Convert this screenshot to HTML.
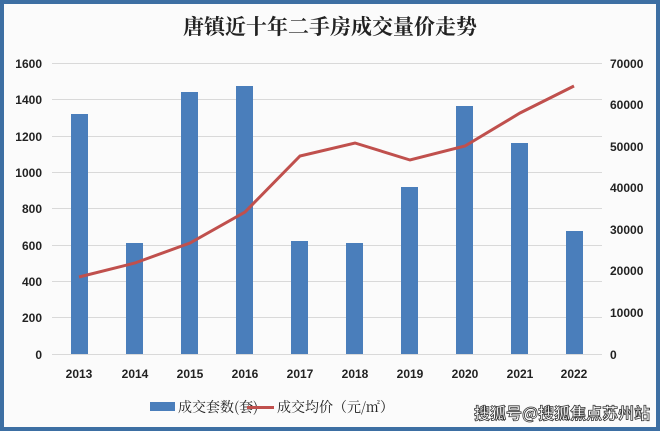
<!DOCTYPE html><html><head><meta charset="utf-8"><style>
body{margin:0;width:660px;height:431px;overflow:hidden;background:#fff}
</style></head><body>
<svg width="660" height="431" xmlns="http://www.w3.org/2000/svg" font-family="Liberation Sans, Noto Sans CJK SC, sans-serif">
<rect x="0" y="0" width="660" height="431" fill="#3d6fa3"/>
<rect x="4" y="4" width="652" height="423" fill="#fbfbfb"/>
<text x="330" y="34" text-anchor="middle" font-size="21" font-weight="bold" font-family="Noto Serif CJK SC, serif" fill="#222">唐镇近十年二手房成交量价走势</text>
<g stroke="#d9d9d9" stroke-width="1">
<line x1="52" x2="602" y1="63.5" y2="63.5"/><line x1="52" x2="602" y1="99.5" y2="99.5"/>
<line x1="52" x2="602" y1="136.5" y2="136.5"/><line x1="52" x2="602" y1="172.5" y2="172.5"/>
<line x1="52" x2="602" y1="208.5" y2="208.5"/><line x1="52" x2="602" y1="245.5" y2="245.5"/>
<line x1="52" x2="602" y1="281.5" y2="281.5"/><line x1="52" x2="602" y1="317.5" y2="317.5"/>
<line x1="52" x2="602" y1="354.5" y2="354.5"/></g>
<g font-size="12" font-weight="bold" fill="#222" text-anchor="end">
<text x="42" y="68">1600</text><text x="42" y="104">1400</text><text x="42" y="141">1200</text><text x="42" y="177">1000</text><text x="42" y="213">800</text><text x="42" y="250">600</text><text x="42" y="286">400</text><text x="42" y="322">200</text><text x="42" y="359">0</text>
</g>
<g font-size="12" font-weight="bold" fill="#222" text-anchor="start">
<text x="610" y="68">70000</text><text x="610" y="109">60000</text><text x="610" y="151">50000</text><text x="610" y="192">40000</text><text x="610" y="234">30000</text><text x="610" y="275">20000</text><text x="610" y="317">10000</text><text x="610" y="359">0</text>
</g>
<g fill="#4a7ebb">
<rect x="71" y="114" width="17" height="240"/><rect x="126" y="243" width="17" height="111"/>
<rect x="181" y="92" width="17" height="262"/><rect x="236" y="86" width="17" height="268"/>
<rect x="291" y="241" width="17" height="113"/><rect x="346" y="243" width="17" height="111"/>
<rect x="401" y="187" width="17" height="167"/><rect x="456" y="106" width="17" height="248"/>
<rect x="511" y="143" width="17" height="211"/><rect x="566" y="231" width="17" height="123"/>
</g>
<polyline fill="none" stroke="#c0504d" stroke-width="3" points="79,277 135,263 190,243 245,212 300,156 355,143 410,160 465,146 520,113 574,86"/>
<g font-size="12" font-weight="bold" fill="#222" text-anchor="middle">
<text x="79" y="378">2013</text><text x="135" y="378">2014</text><text x="190" y="378">2015</text><text x="245" y="378">2016</text><text x="300" y="378">2017</text><text x="355" y="378">2018</text><text x="410" y="378">2019</text><text x="465" y="378">2020</text><text x="520" y="378">2021</text><text x="574" y="378">2022</text>
</g>
<rect x="150" y="402" width="25" height="9" fill="#4a7ebb"/>
<text x="178" y="412" font-size="14" font-family="Noto Serif CJK SC, serif" fill="#222">成交套数(套)</text>
<line x1="247" x2="274" y1="407.5" y2="407.5" stroke="#c0504d" stroke-width="3"/>
<text x="277" y="412" font-size="14" font-family="Noto Serif CJK SC, serif" fill="#222">成交均价（元/㎡）</text>
<text x="474" y="419" font-size="16" font-weight="bold" fill="#fff" stroke="#333" stroke-width="0.8" font-family="Noto Sans CJK SC, sans-serif">搜狐号@搜狐焦点苏州站</text>
</svg>
</body></html>
